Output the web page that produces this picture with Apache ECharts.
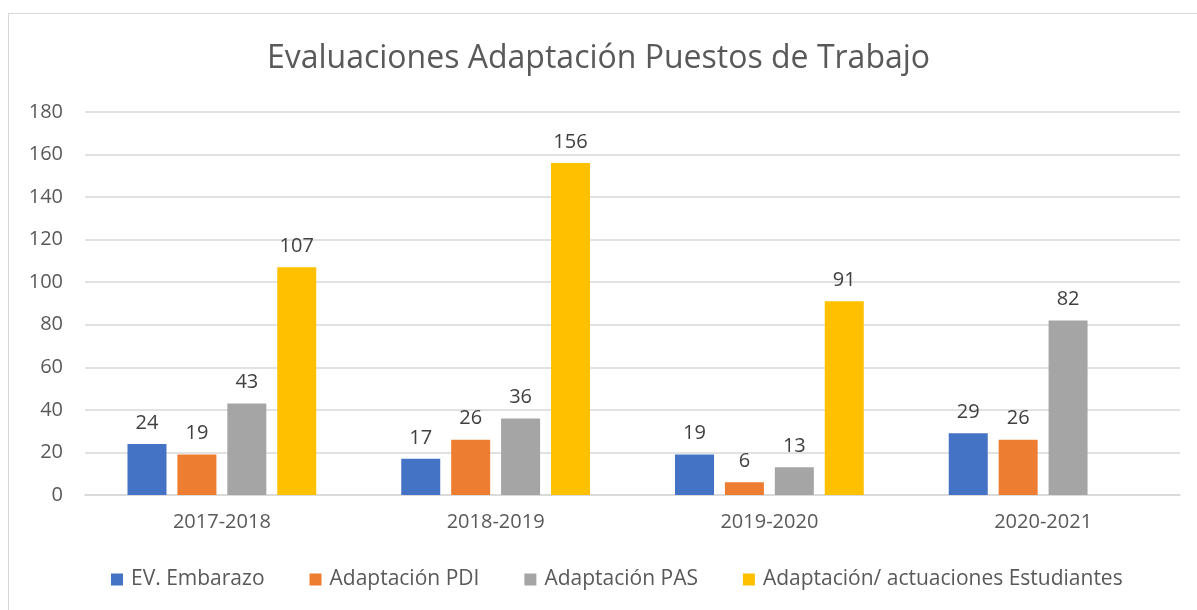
<!DOCTYPE html>
<html lang="es">
<head>
  <meta charset="UTF-8">
  <title>Evaluaciones Adaptación Puestos de Trabajo</title>
  <style>
      html, body {
          margin: 0;
          padding: 0;
          background: #fff;
      }
      #frame {
          position: absolute;
          left: 8px;
          top: 13px;
          width: 1300px;
          height: 700px;
          border-top: 1px solid #d9d9d9;
          border-left: 1px solid #d9d9d9;
      }
      #chart {
          position: absolute;
          left: 0;
          top: 0;
          width: 1197px;
          height: 610px;
      }
  </style>
</head>
<body>
<div id="frame"></div>
<div id="chart"></div>

<script src="https://cdn.jsdelivr.net/npm/echarts@6/dist/echarts.min.js"></script>
<script>

  // datos
  const cursos = ['2017-2018', '2018-2019', '2019-2020', '2020-2021']
  const embarazo = [24, 17, 19, 29]
  const pdi = [19, 26, 6, 26]
  const pas = [43, 36, 13, 82]
  const estudiantes = [107, 156, 91, null]

  const fuente = '"Open Sans", "Noto Sans", sans-serif'

  function serie(nombre, datos, color) {
    return {
      name: nombre,
      type: 'bar',
      data: datos,
      barWidth: 39,
      barGap: '28%',
      itemStyle: { color: color },
      label: {
        show: true,
        position: 'top',
        distance: 11,
        color: '#404040',
        fontSize: 20,
        fontFamily: fuente
      }
    }
  }

  const option = {
    animation: false,
    title: {
      text: 'Evaluaciones Adaptación Puestos de Trabajo',
      left: 'center',
      top: 38,
      textStyle: {
        color: '#595959',
        fontSize: 32,
        fontWeight: 'normal',
        fontFamily: fuente
      }
    },
    legend: {
      bottom: 15,
      left: 106,
      itemWidth: 12,
      itemHeight: 12,
      itemGap: 45,
      icon: 'rect',
      textStyle: {
        color: '#595959',
        fontSize: 21,
        padding: [0, 0, 0, 3],
        fontFamily: fuente
      }
    },
    grid: {
      left: 85,
      right: 17,
      top: 112,
      bottom: 115
    },
    xAxis: {
      type: 'category',
      data: cursos,
      axisLine: { lineStyle: { color: '#d9d9d9', width: 1.5 } },
      axisTick: { show: false },
      axisLabel: {
        color: '#595959',
        fontSize: 20,
        margin: 17,
        fontFamily: fuente
      }
    },
    yAxis: {
      type: 'value',
      min: 0,
      max: 180,
      interval: 20,
      axisLine: { show: false },
      axisTick: { show: false },
      splitLine: { lineStyle: { color: '#d9d9d9', width: 1.5 } },
      axisLabel: {
        color: '#595959',
        fontSize: 20,
        margin: 22,
        fontFamily: fuente
      }
    },
    series: [
      serie('EV. Embarazo', embarazo, '#4472c4'),
      serie('Adaptación PDI', pdi, '#ed7d31'),
      serie('Adaptación PAS', pas, '#a5a5a5'),
      serie('Adaptación/ actuaciones Estudiantes', estudiantes, '#ffc000')
    ]
  };

  const chart = echarts.init(document.getElementById('chart'))
  chart.setOption(option)

</script>
</body>
</html>
